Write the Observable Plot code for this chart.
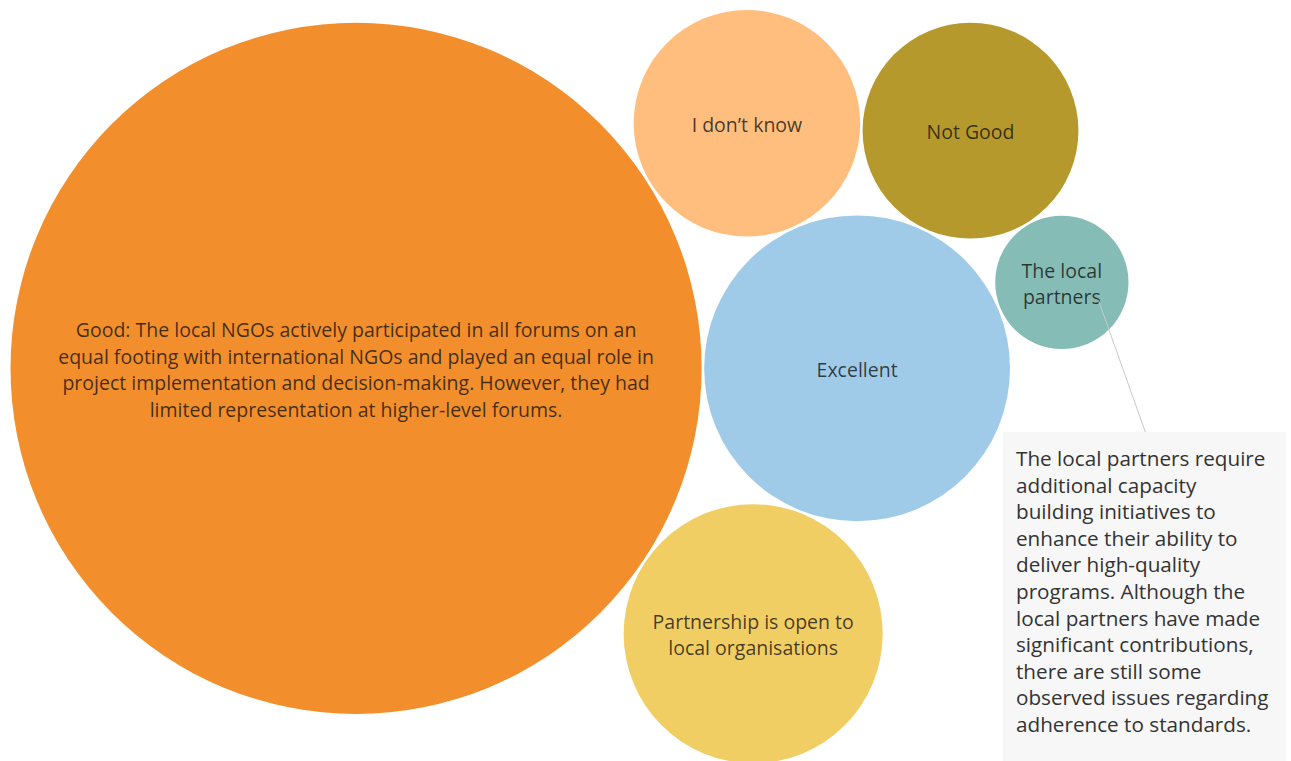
<!DOCTYPE html>
<html>
<head>
<meta charset="utf-8">
<script src="https://cdn.jsdelivr.net/npm/d3@7"></script>
<script src="https://cdn.jsdelivr.net/npm/@observablehq/plot@0.6"></script>
<style>
  html, body { margin: 0; padding: 0; background: #ffffff; overflow: hidden; }
  #wrap { position: relative; width: 1291px; height: 761px; overflow: hidden; font-family: "Open Sans", sans-serif; }
  #tip { position: absolute; left: 1003px; top: 432px; width: 283px; height: 340px; background: #f7f7f7;
         box-sizing: border-box; padding: 13px 0 0 13px; color: #333333; font-size: 20.7px; line-height: 26.6px;
         font-family: "Open Sans", sans-serif; white-space: pre; }
</style>
</head>
<body>
<div id="wrap"></div>
<script>
// ---- data ----
const categories = [
  "Good: The local NGOs actively participated in all forums on an equal footing with international NGOs and played an equal role in project implementation and decision-making. However, they had limited representation at higher-level forums.",
  "Excellent",
  "Partnership is open to local organisations",
  "I don’t know",
  "Not Good",
  "The local partners"
];
const values = [121, 23.7, 17.0, 13.0, 11.8, 4.5];
const labelLines = [
  "Good: The local NGOs actively participated in all forums on an\nequal footing with international NGOs and played an equal role in\nproject implementation and decision-making. However, they had\nlimited representation at higher-level forums.",
  "Excellent",
  "Partnership is open to\nlocal organisations",
  "I don’t know",
  "Not Good",
  "The local\npartners"
];
const colors = ["#F28E2B", "#A0CBE8", "#F1CE63", "#FFBE7D", "#B6992D", "#86BCB6"];
const tooltipLines = [
  "The local partners require",
  "additional capacity",
  "building initiatives to",
  "enhance their ability to",
  "deliver high-quality",
  "programs. Although the",
  "local partners have made",
  "significant contributions,",
  "there are still some",
  "observed issues regarding",
  "adherence to standards."
];
// packing order: each bubble after the first two touches these two earlier bubbles
const touches = [null, null, [0, 1], [1, 0], [1, 3], [1, 4]];

(function () {
const W = 1291, H = 761;
const gap = 0.08;
// ---- packed-bubble layout: area ∝ value, each bubble tangent to its two neighbours ----
const nodes = values.map((v, i) => ({
  category: categories[i], value: v, label: labelLines[i], r: Math.sqrt(v), x: 0, y: 0
}));
nodes[1].x = nodes[0].r + nodes[1].r + gap;
function place(A, B, c) {
  const dx = B.x - A.x, dy = B.y - A.y, d = Math.hypot(dx, dy);
  const dA = A.r + c.r + gap, dB = B.r + c.r + gap;
  const t = (d * d + dA * dA - dB * dB) / (2 * d);
  const h = Math.sqrt(Math.max(0, dA * dA - t * t));
  const ux = dx / d, uy = dy / d;
  c.x = A.x + t * ux - h * uy;
  c.y = A.y + t * uy + h * ux;
}
for (let i = 2; i < nodes.length; i++) place(nodes[touches[i][0]], nodes[touches[i][1]], nodes[i]);

const xmin = d3.min(nodes, d => d.x - d.r), xmax = d3.max(nodes, d => d.x + d.r);
const ymin = d3.min(nodes, d => d.y - d.r);
const padLeft = 10, padTop = 9.5;
const k = 1118 / (xmax - xmin);
const x0 = xmin - padLeft / k, y0 = ymin - padTop / k;

const tipNode = nodes[5];

const chart = Plot.plot({
  width: W, height: H, margin: 0,
  style: { background: "transparent", fontFamily: "Open Sans, sans-serif" },
  x: { domain: [x0, x0 + W / k], range: [0, W], axis: null },
  y: { domain: [y0, y0 + H / k], range: [0, H], axis: null },
  r: { type: "linear", domain: [0, 1], range: [0, k] },
  color: { domain: categories, range: colors },
  marks: [
    Plot.dot(nodes, { x: "x", y: "y", r: "r", fill: "category", stroke: null, fillOpacity: 1 }),
    Plot.text(nodes, { x: "x", y: "y", text: "label", fontSize: 19.5, lineHeight: 1.36,
      fill: "#111", fillOpacity: 0.78 }),
    Plot.link([tipNode], {
      x1: d => d.x + 0.55 * d.r, y1: d => d.y + 0.27 * d.r,
      x2: () => x0 + 1145 / k, y2: () => y0 + 432 / k,
      stroke: "#c8c8c8", strokeWidth: 1
    })
  ]
});

const wrap = document.getElementById("wrap");
wrap.appendChild(chart);
const tip = document.createElement("div");
tip.id = "tip";
tip.textContent = tooltipLines.join("\n");
wrap.appendChild(tip);
})();
</script>
</body>
</html>
